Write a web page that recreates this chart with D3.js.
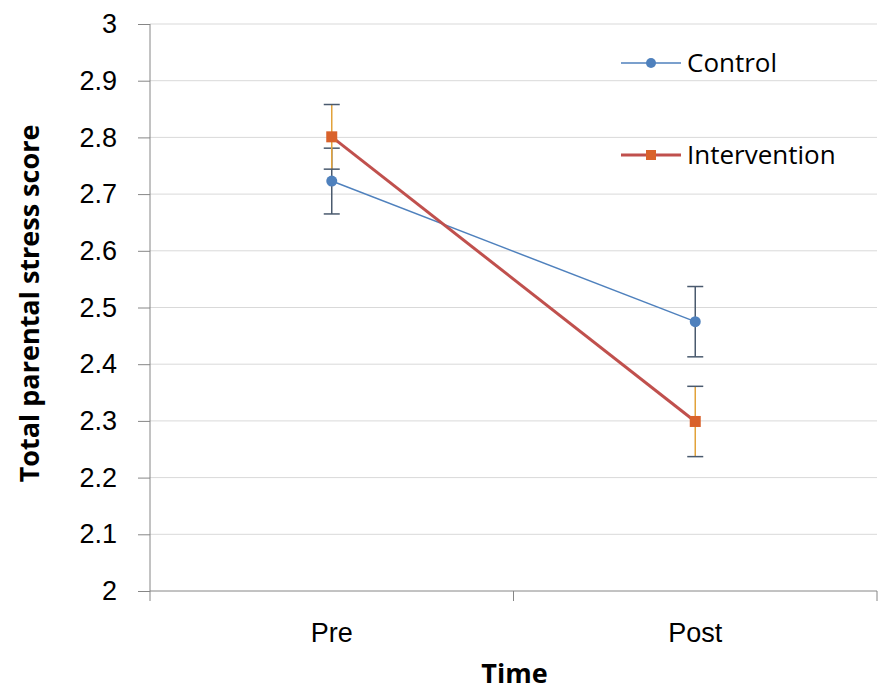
<!DOCTYPE html>
<html>
<head>
<meta charset="utf-8">
<script src="https://cdn.jsdelivr.net/npm/d3@7"></script>
<style>
  body { margin: 0; background: #fff; }
  svg { display: block; font-family: "Open Sans", "Liberation Sans", sans-serif; }
  .grid line { stroke: #d9d9d9; stroke-width: 1; }
  .axis path, .axis line { stroke: #868686; }
  .axis text { fill: #000; font-size: 27px; }
  .axis-title { font-size: 27px; font-weight: bold; fill: #000; }
  .legend text { font-size: 26px; fill: #000; }
</style>
</head>
<body>
<div id="chart"></div>
<script>
const times = ["Pre", "Post"];
const yTicks = [2, 2.1, 2.2, 2.3, 2.4, 2.5, 2.6, 2.7, 2.8, 2.9, 3];
const controlMean = [2.723, 2.475];
const controlErr = [0.058, 0.062];
const interventionMean = [2.801, 2.299];
const interventionErr = [0.057, 0.062];

const series = [
  { name: "Control", mean: controlMean, err: controlErr, line: "#4f81bd", lw: 1.5, marker: "circle", fill: "#4f81bd", errColor: "#4a5a6e", legendY: 63 },
  { name: "Intervention", mean: interventionMean, err: interventionErr, line: "#c0504d", lw: 3, marker: "square", fill: "#d9622b", errColor: "#e2a23a", legendY: 155 }
];

const width = 878, height = 691;
const m = { top: 24, right: 1, bottom: 100, left: 150 };
const iW = width - m.left - m.right, iH = height - m.top - m.bottom;

const svg = d3.select("#chart").append("svg").attr("width", width).attr("height", height);
const g = svg.append("g").attr("transform", `translate(${m.left},${m.top})`);

const x = d3.scaleBand(times, [0, iW]);
const y = d3.scaleLinear([2, 3], [iH, 0]);
const cx = (i) => x(times[i]) + x.bandwidth() / 2;

g.append("g").attr("class", "grid").selectAll("line")
  .data(yTicks.slice(1)).join("line")
  .attr("x1", 0).attr("x2", iW).attr("y1", (d) => y(d)).attr("y2", (d) => y(d));

const xAxis = g.append("g").attr("class", "axis").attr("transform", `translate(0,${iH})`)
  .call(d3.axisBottom(x).tickSize(0).tickPadding(32));
xAxis.select(".domain").attr("d", `M0,0H${iW}`);
xAxis.selectAll(".xt").data([0, iW / 2, iW]).join("line").attr("class", "xt")
  .attr("x1", (d) => d).attr("x2", (d) => d).attr("y1", 0).attr("y2", 10).attr("stroke", "#868686");

const yAxis = g.append("g").attr("class", "axis")
  .call(d3.axisLeft(y).tickValues(yTicks).tickSize(12).tickPadding(21).tickFormat(d3.format("~g")));
yAxis.select(".domain").attr("d", `M0,0V${iH}`);

g.append("text").attr("class", "axis-title").attr("text-anchor", "middle")
  .attr("x", iW / 2 + 1).attr("y", iH + 92).text("Time");
g.append("text").attr("class", "axis-title").attr("text-anchor", "middle")
  .attr("transform", `translate(${-111},${iH / 2 - 4}) rotate(-90)`).text("Total parental stress score");

const line = d3.line().x((d, i) => cx(i)).y((d) => y(d));

for (const s of series) {
  // error bars
  const eg = g.append("g");
  s.mean.forEach((v, i) => {
    const lo = y(v - s.err[i]), hi = y(v + s.err[i]);
    eg.append("line").attr("x1", cx(i)).attr("x2", cx(i)).attr("y1", lo).attr("y2", hi).attr("stroke", s.errColor).attr("stroke-width", 1.5);
    [lo, hi].forEach((yy) => eg.append("line").attr("x1", cx(i) - 8).attr("x2", cx(i) + 8).attr("y1", yy).attr("y2", yy)
      .attr("stroke", "#4a5a6e").attr("stroke-width", 1.5));
  });
}
for (const s of series) {
  g.append("path").datum(s.mean).attr("fill", "none").attr("stroke", s.line).attr("stroke-width", s.lw).attr("d", line);
  const mk = g.append("g");
  s.mean.forEach((v, i) => {
    if (s.marker === "circle") mk.append("circle").attr("cx", cx(i)).attr("cy", y(v)).attr("r", 5.5).attr("fill", s.fill);
    else mk.append("rect").attr("x", cx(i) - 5.5).attr("y", y(v) - 5.5).attr("width", 11).attr("height", 11).attr("fill", s.fill);
  });
}

// legend
const lg = svg.append("g").attr("class", "legend");
for (const s of series) {
  lg.append("line").attr("x1", 621).attr("x2", 681).attr("y1", s.legendY).attr("y2", s.legendY).attr("stroke", s.line).attr("stroke-width", s.lw);
  if (s.marker === "circle") lg.append("circle").attr("cx", 651).attr("cy", s.legendY).attr("r", 5).attr("fill", s.fill);
  else lg.append("rect").attr("x", 646).attr("y", s.legendY - 5).attr("width", 10).attr("height", 10).attr("fill", s.fill);
  lg.append("text").attr("x", 687).attr("y", s.legendY + 9).text(s.name);
}
</script>
</body>
</html>
